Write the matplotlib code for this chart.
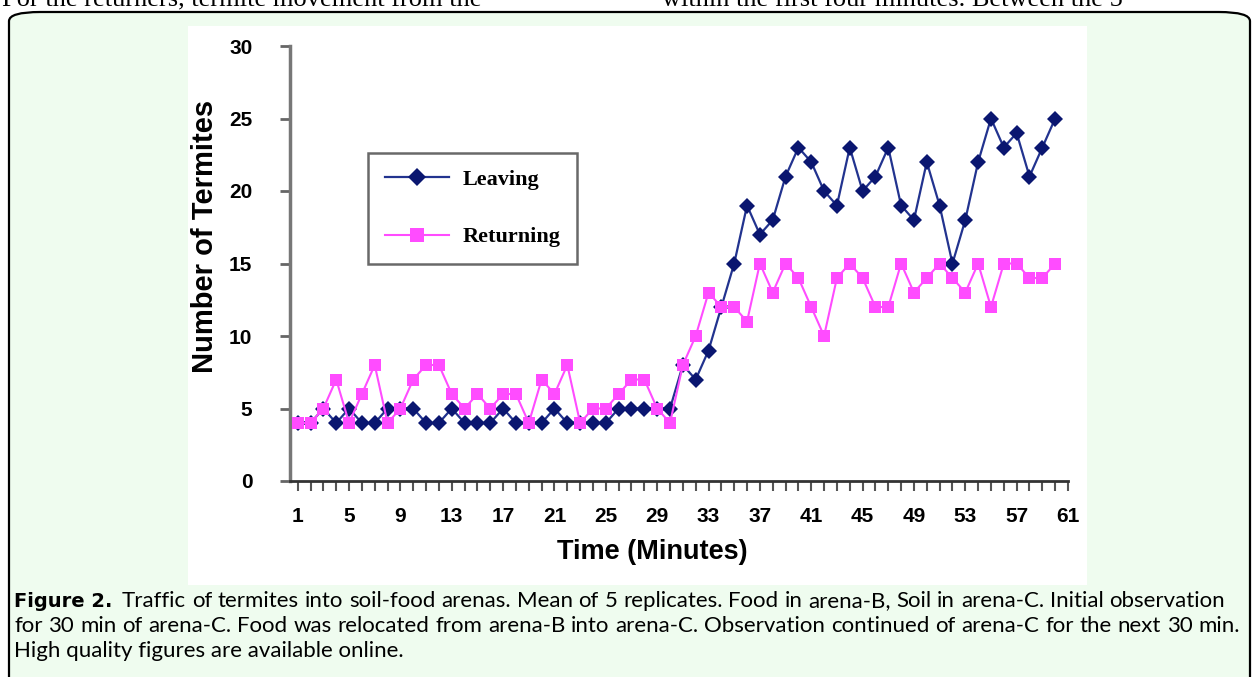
import matplotlib
matplotlib.use("Agg")
import matplotlib.pyplot as plt
from matplotlib.patches import FancyBboxPatch, Rectangle
import numpy as np

# minutes 1..60
minutes = list(range(1, 61))

leaving = [4, 4, 5, 4, 5, 4, 4, 5, 5, 5,
           4, 4, 5, 4, 4, 4, 5, 4, 4, 4,
           5, 4, 4, 4, 4, 5, 5, 5, 5, 5,
           8, 7, 9, 12, 15, 19, 17, 18, 21, 23,
           22, 20, 19, 23, 20, 21, 23, 19, 18, 22,
           19, 15, 18, 22, 25, 23, 24, 21, 23, 25]

returning = [4, 4, 5, 7, 4, 6, 8, 4, 5, 7,
             8, 8, 6, 5, 6, 5, 6, 6, 4, 7,
             6, 8, 4, 5, 5, 6, 7, 7, 5, 4,
             8, 10, 13, 12, 12, 11, 15, 13, 15, 14,
             12, 10, 14, 15, 14, 12, 12, 15, 13, 14,
             15, 14, 13, 15, 12, 15, 15, 14, 14, 15]

y_ticks = [0, 5, 10, 15, 20, 25, 30]
x_labels = list(range(1, 62, 4))

caption_lines = [
    "Traffic of termites into soil-food arenas. Mean of 5 replicates. Food in arena-B, Soil in arena-C. Initial observation",
    "for 30 min of arena-C. Food was relocated from arena-B into arena-C. Observation continued of arena-C for the next 30 min.",
    "High quality figures are available online.",
]

W, H = 1255, 677
fig = plt.figure(figsize=(W / 100, H / 100), dpi=100)
fig.patch.set_facecolor("white")


def fy(y):
    return 1 - y / H


# page text cut at the top
fig.text(2 / W, fy(6), "For the returners, termite movement from the",
         family="Liberation Serif", fontsize=19, color="black", va="baseline")
fig.text(662 / W, fy(6), "within the first four minutes. Between the 5",
         family="Liberation Serif", fontsize=19, color="black", va="baseline")

# rounded caption box with light green fill
box = FancyBboxPatch((9 / W, -0.05), 1241 / W, (H - 12) / H + 0.05,
                     boxstyle="round,pad=0,rounding_size=0.025",
                     transform=fig.transFigure, facecolor="#effcef",
                     edgecolor="black", linewidth=1.6, mutation_aspect=H / W,
                     zorder=-3)
fig.patches.append(box)

# white chart picture
fig.patches.append(Rectangle((188 / W, fy(585)), (1087 - 188) / W, (585 - 26) / H,
                             transform=fig.transFigure, facecolor="white",
                             edgecolor="none", zorder=-2))

ax = fig.add_axes([290 / W, fy(481), (1068 - 290) / W, (481 - 46) / H])
ax.set_facecolor("white")

ax.plot(minutes, returning, color="#ff4cff", linewidth=1.5, marker="s",
        markersize=9, markeredgewidth=0, label="Returning", zorder=3)
ax.plot(minutes, leaving, color="#22338f", linewidth=1.6, marker="D",
        markersize=8.5, markerfacecolor="#0a1670", markeredgewidth=0,
        label="Leaving", zorder=2)

ax.set_xlim(0.4, 61.0)
ax.set_ylim(0, 30)
ax.set_yticks(y_ticks)
ax.set_xticks(x_labels)
ax.set_xticks(range(1, 62), minor=True)
for t in ax.get_yticklabels() + ax.get_xticklabels():
    t.set_fontweight("bold")
    t.set_fontfamily("Liberation Sans")
    t.set_fontsize(15)
ax.tick_params(axis="y", direction="out", length=7, width=2, color="#666666", pad=20)
ax.tick_params(axis="x", which="both", direction="out", length=7, width=1.5,
               color="#555555", pad=12)
ax.spines["top"].set_visible(False)
ax.spines["right"].set_visible(False)
ax.spines["left"].set_color("#777777")
ax.spines["bottom"].set_color("#333333")
ax.spines["left"].set_linewidth(2.5)
ax.spines["bottom"].set_linewidth(2)

fig.text(205 / W, fy(236), "Number of Termites", rotation=90,
         ha="center", va="center", family="Liberation Sans",
         fontweight="bold", fontsize=21)
fig.text(652 / W, fy(552), "Time (Minutes)", ha="center", va="center",
         family="Liberation Sans", fontweight="bold", fontsize=19.5)

handles, labels = ax.get_legend_handles_labels()
leg = ax.legend(handles[::-1], labels[::-1], loc="upper left",
                bbox_to_anchor=(368 / W, fy(153)), bbox_transform=fig.transFigure,
                prop={"family": "Liberation Serif", "weight": "bold", "size": 16},
                frameon=True, fancybox=False, edgecolor="#444444",
                handlelength=2.9, handletextpad=0.6, labelspacing=1.65,
                borderpad=0.75, borderaxespad=0, markerscale=1.1)
leg.get_frame().set_linewidth(1.8)

# caption, justified like the journal page
renderer = fig.canvas.get_renderer()
spans = [(122, 1225, 607), (14, 1240, 632)]


def word_widths(words, size):
    arts = [fig.text(0, 0, w, family="Lato", fontsize=size) for w in words]
    widths = [a.get_window_extent(renderer).width for a in arts]
    for a in arts:
        a.remove()
    return widths


# biggest size that still leaves a normal word gap on both lines
size = 17.0
while size > 12:
    ok = True
    for line, (xl, xr, _) in zip(caption_lines, spans):
        words = line.split(" ")
        gap = (xr - xl - sum(word_widths(words, size))) / (len(words) - 1)
        if gap < 5.5:
            ok = False
    if ok:
        break
    size -= 0.25


def justify(line, x_left, x_right, y):
    words = line.split(" ")
    widths = word_widths(words, size)
    gap = (x_right - x_left - sum(widths)) / (len(words) - 1)
    x = x_left
    for w, wd in zip(words, widths):
        fig.text(x / W, fy(y), w, family="Lato", fontsize=size, va="baseline")
        x += wd + gap


fig.text(14 / W, fy(607), "Figure 2.", family="DejaVu Sans", fontweight="bold",
         fontsize=14, va="baseline")
for line, (xl, xr, y) in zip(caption_lines, spans):
    justify(line, xl, xr, y)
fig.text(14 / W, fy(657), caption_lines[2], family="Lato", fontsize=size, va="baseline")

fig.savefig("out.png", dpi=100, facecolor=fig.get_facecolor())
